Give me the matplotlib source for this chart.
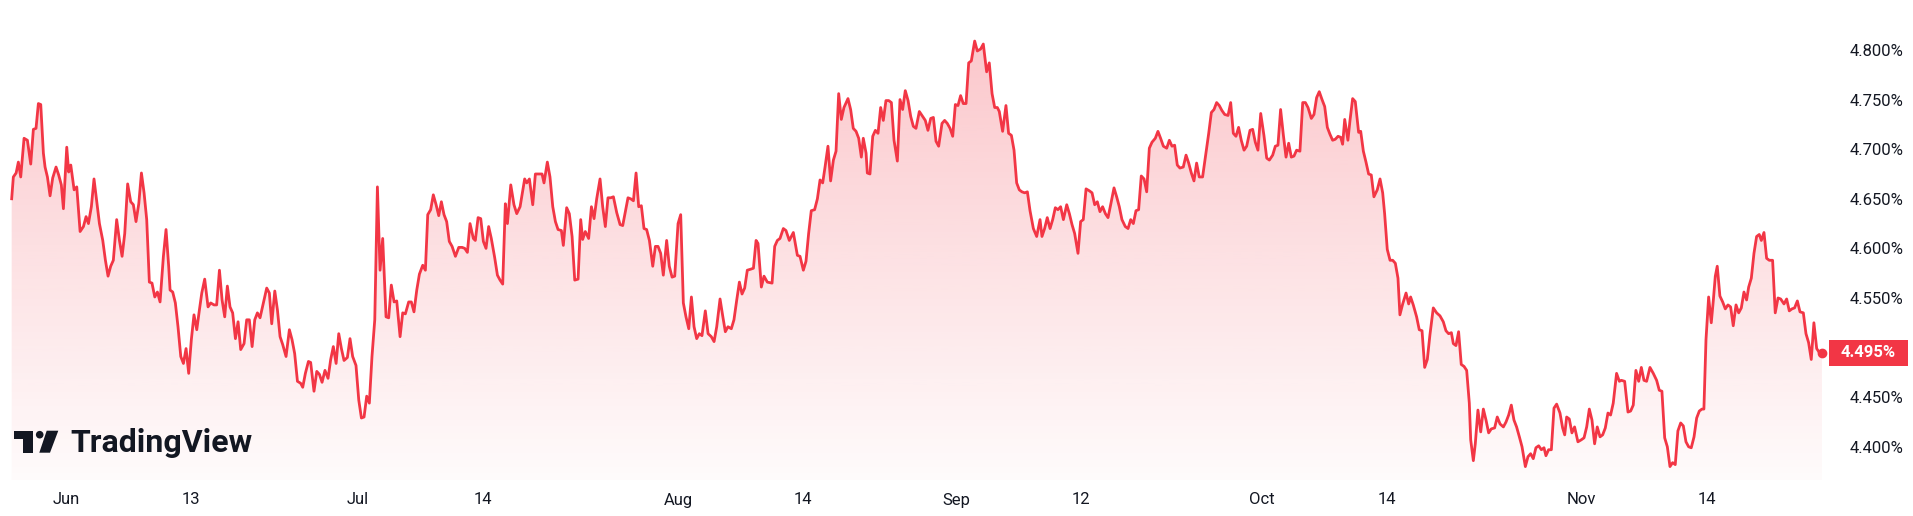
import matplotlib.pyplot as plt
import matplotlib.transforms as mtransforms
from matplotlib.colors import to_rgb
from matplotlib.patches import Rectangle, Circle, Polygon
import numpy as np

plt.rcParams['font.family'] = ['Roboto', 'DejaVu Sans']

# x = trading-day index (Jun label sits on day 4), y = yield in %
days = [
    0.09, 0.21, 0.41, 0.57, 0.74, 0.98, 1.22, 1.46, 1.65, 1.84, 2.01, 2.18, 2.37, 2.49, 2.66,
    2.85, 3.04, 3.28, 3.47, 3.66, 3.81, 4.05, 4.19, 4.34, 4.58, 4.77, 5.01, 5.25, 5.44, 5.61,
    5.82, 6.01, 6.25, 6.40, 6.64, 6.83, 7.02, 7.21, 7.40, 7.64, 7.84, 8.03, 8.22, 8.43, 8.65,
    8.84, 9.03, 9.23, 9.42, 9.61, 9.80, 9.99, 10.18, 10.38, 10.57, 10.76, 11.00, 11.19, 11.38, 11.48,
    11.67, 11.86, 12.05, 12.25, 12.44, 12.63, 12.82, 13.01, 13.20, 13.40, 13.59, 13.76, 13.97, 14.21, 14.40,
    14.64, 14.83, 15.03, 15.22, 15.41, 15.60, 15.79, 15.98, 16.18, 16.37, 16.56, 16.80, 16.99, 17.18, 17.38,
    17.57, 17.76,
    17.95, 18.19, 18.43, 18.62, 18.79, 19.01, 19.20, 19.39, 19.58, 19.82, 20.06, 20.25, 20.44, 20.64, 20.87,
    21.02, 21.21, 21.43, 21.59, 21.83, 22.03, 22.22, 22.41, 22.62, 22.84, 23.03, 23.22, 23.42, 23.61, 23.80,
    23.99, 24.23, 24.42, 24.61, 24.85, 25.05, 25.24, 25.43, 25.62, 25.81, 26.00, 26.20, 26.39, 26.58, 26.77,
    27.01, 27.20, 27.39, 27.59, 27.78, 28.02, 28.21, 28.40, 28.64, 28.83, 29.02, 29.22, 29.41, 29.65, 29.84,
    30.01, 30.22, 30.41, 30.61, 30.80, 30.99, 31.18, 31.37, 31.56, 31.76, 32.00, 32.24, 32.48, 32.67, 32.86,
    33.05, 33.29, 33.43, 33.63, 33.82, 34.01, 34.20, 34.39, 34.58, 34.82, 35.02, 35.21, 35.40, 35.59, 35.74,
    35.98, 36.21, 36.41,
    36.65, 36.98, 37.13, 37.32, 37.56, 37.75, 37.99, 38.23, 38.37, 38.61, 38.80, 39.00, 39.19, 39.38, 39.62,
    39.76, 40.00, 40.19, 40.39, 40.58, 40.82, 41.01, 41.15, 41.34, 41.58, 41.78, 41.97, 42.16, 42.40, 42.59,
    42.78, 42.97, 43.17, 43.36, 43.60, 43.84, 44.03, 44.22, 44.41, 44.60, 44.80, 44.99, 45.18, 45.37, 45.56,
    45.75, 45.95, 46.19, 46.38, 46.57, 46.76, 46.95, 47.19, 47.38, 47.58, 47.77, 48.01, 48.20, 48.39, 48.58,
    48.78, 48.97, 49.16, 49.35, 49.54, 49.73, 49.97, 50.17, 50.40, 50.60, 50.79, 51.03, 51.22, 51.41, 51.60,
    51.84, 52.03, 52.23, 52.42, 52.61, 52.80, 52.99, 53.23, 53.43, 53.62, 53.76, 54.00, 54.19, 54.43, 54.77,
    54.96, 55.15,
    55.34, 55.58, 55.77, 56.01, 56.30, 56.59, 56.78, 57.02, 57.21, 57.40, 57.59, 57.83, 58.03, 58.22, 58.41,
    58.58, 58.79, 58.98, 59.18, 59.37, 59.56, 59.75, 59.94, 60.23, 60.42, 60.61, 60.81, 61.00, 61.19, 61.33,
    61.53, 61.62, 61.81, 62.01, 62.20, 62.39, 62.58, 62.77, 62.96, 63.16, 63.35, 63.54, 63.78, 63.97, 64.16,
    64.35, 64.55, 64.74, 64.93, 65.12, 65.36, 65.60, 65.79, 65.98, 66.18, 66.37, 66.56, 66.75, 66.99, 67.18,
    67.37, 67.57, 67.76, 67.95, 68.14, 68.33, 68.52, 68.72, 68.91, 69.10, 69.34, 69.53, 69.77, 69.96, 70.20,
    70.39, 70.59, 70.78, 70.97, 71.11, 71.35, 71.59, 71.78, 71.98, 72.17, 72.36, 72.55, 72.74, 72.94, 73.13,
    73.32, 73.56, 73.80,
    74.04, 74.18, 74.37, 74.56, 74.76, 74.95, 75.14, 75.33, 75.52, 75.72, 75.96, 76.15, 76.34, 76.53, 76.77,
    76.96, 77.15, 77.35, 77.59, 77.78, 77.97, 78.16, 78.35, 78.54, 78.74, 78.93, 79.12, 79.36, 79.55, 79.74,
    79.93, 80.17, 80.37, 80.56, 80.75, 80.94, 81.13, 81.32, 81.52, 81.71, 81.90, 82.09, 82.33, 82.52, 82.71,
    82.91, 83.15, 83.34, 83.53, 83.72, 83.91, 84.10, 84.34, 84.54, 84.73, 84.92, 85.11, 85.30, 85.49, 85.73,
    85.93, 86.17, 86.36, 86.55, 86.74, 86.93, 87.12, 87.32, 87.56, 87.75, 87.94, 88.13, 88.32, 88.51, 88.71,
    88.90, 89.14, 89.33, 89.52, 89.71, 89.91, 90.14, 90.34, 90.53, 90.77, 90.96, 91.15, 91.34, 91.54, 91.73,
    91.92, 92.11, 92.30, 92.49,
    92.73, 92.93, 93.12, 93.31, 93.55, 93.74, 93.93, 94.12, 94.32, 94.51, 94.70, 94.89, 95.08, 95.27, 95.47,
    95.66, 95.80, 95.95, 96.18, 96.33, 96.52, 96.71, 96.95, 97.10, 97.29, 97.48, 97.67, 97.86, 98.05, 98.29,
    98.49, 98.68, 98.82, 99.01, 99.21, 99.40, 99.59, 99.78, 99.92, 100.12, 100.36, 100.55, 100.69, 100.88, 101.12,
    101.31, 101.51, 101.70, 101.89, 102.08, 102.32, 102.56, 102.80, 103.04, 103.23, 103.42, 103.62, 103.76, 103.95, 104.14,
    104.33, 104.53, 104.72, 104.91, 105.01, 105.20, 105.34, 105.53, 105.73, 105.92, 106.11, 106.30, 106.49, 106.73, 106.92,
    107.12, 107.36, 107.55, 107.74, 107.93, 108.12, 108.31, 108.51, 108.70, 108.94, 109.13, 109.32, 109.51, 109.70, 109.90,
    110.09, 110.28, 110.42, 110.61, 110.81, 111.00, 111.19,
    111.43, 111.62, 111.77, 111.91, 112.10, 112.29, 112.48, 112.72, 112.96, 113.16, 113.35, 113.54, 113.73, 113.92, 114.11,
    114.31, 114.50, 114.69, 114.88, 115.07, 115.26, 115.50, 115.70, 115.84, 116.08, 116.32, 116.51, 116.70, 116.89, 117.09,
    117.28, 117.47, 117.66, 117.90, 118.14, 118.38, 118.57, 118.76, 118.96, 119.15, 119.34, 119.53, 119.72, 119.91, 120.11,
    120.30, 120.49, 120.68, 120.87, 121.07, 121.26, 121.45, 121.64, 121.78, 121.93, 122.12, 122.31, 122.46, 122.60, 122.74,
    122.93, 123.13, 123.32, 123.51, 123.70, 123.89, 124.09, 124.28, 124.47, 124.66, 124.85, 125.00, 125.19, 125.38, 125.57,
    125.76, 125.91, 126.10, 126.29, 126.48, 126.72, 126.91, 127.11, 127.30, 127.54, 127.73, 127.92, 128.11, 128.30, 128.50,
    128.69, 128.93, 129.12, 129.31, 129.50, 129.69, 129.89, 130.08, 130.27,
]

yields = [
    4.650, 4.672, 4.676, 4.687, 4.672, 4.711, 4.709, 4.685, 4.720, 4.721, 4.746, 4.745, 4.696, 4.682, 4.672,
    4.653, 4.671, 4.682, 4.674, 4.664, 4.640, 4.702, 4.677, 4.684, 4.659, 4.662, 4.617, 4.622, 4.632, 4.625,
    4.642, 4.670, 4.642, 4.625, 4.608, 4.588, 4.572, 4.582, 4.588, 4.629, 4.608, 4.592, 4.615, 4.665, 4.647,
    4.644, 4.627, 4.645, 4.676, 4.656, 4.629, 4.566, 4.565, 4.551, 4.556, 4.546, 4.592, 4.619, 4.582, 4.558,
    4.556, 4.545, 4.521, 4.491, 4.484, 4.499, 4.474, 4.508, 4.533, 4.518, 4.538, 4.555, 4.569, 4.541, 4.545,
    4.543, 4.543, 4.578, 4.548, 4.531, 4.562, 4.541, 4.535, 4.509, 4.526, 4.498, 4.504, 4.528, 4.528, 4.501,
    4.528, 4.535,
    4.530, 4.545, 4.560, 4.555, 4.524, 4.557, 4.538, 4.511, 4.503, 4.491, 4.518, 4.508, 4.494, 4.466, 4.464,
    4.460, 4.474, 4.486, 4.485, 4.456, 4.476, 4.473, 4.465, 4.477, 4.469, 4.488, 4.501, 4.484, 4.514, 4.499,
    4.487, 4.490, 4.509, 4.491, 4.482, 4.447, 4.429, 4.430, 4.451, 4.444, 4.491, 4.528, 4.662, 4.578, 4.610,
    4.531, 4.530, 4.563, 4.546, 4.547, 4.511, 4.535, 4.534, 4.546, 4.546, 4.536, 4.558, 4.574, 4.583, 4.578,
    4.634, 4.639, 4.654, 4.644, 4.633, 4.647, 4.634, 4.627, 4.607, 4.602, 4.592, 4.601, 4.601, 4.600, 4.596,
    4.625, 4.610, 4.608, 4.631, 4.630, 4.607, 4.600, 4.622, 4.610, 4.591, 4.573, 4.568, 4.564, 4.645, 4.625,
    4.664, 4.644, 4.635,
    4.642, 4.670, 4.666, 4.670, 4.644, 4.675, 4.675, 4.675, 4.666, 4.687, 4.672, 4.642, 4.627, 4.619, 4.618,
    4.603, 4.641, 4.635, 4.612, 4.568, 4.569, 4.629, 4.609, 4.617, 4.610, 4.642, 4.630, 4.650, 4.670, 4.642,
    4.622, 4.651, 4.651, 4.652, 4.636, 4.624, 4.623, 4.637, 4.651, 4.650, 4.648, 4.676, 4.642, 4.643, 4.620,
    4.619, 4.608, 4.582, 4.602, 4.602, 4.595, 4.573, 4.608, 4.582, 4.571, 4.572, 4.625, 4.634, 4.545, 4.531,
    4.519, 4.551, 4.521, 4.509, 4.514, 4.512, 4.537, 4.514, 4.511, 4.506, 4.521, 4.549, 4.532, 4.516, 4.521,
    4.519, 4.528, 4.548, 4.566, 4.554, 4.560, 4.578, 4.579, 4.580, 4.608, 4.605, 4.561, 4.572, 4.566, 4.565,
    4.602, 4.608,
    4.610, 4.620, 4.618, 4.608, 4.616, 4.593, 4.592, 4.578, 4.587, 4.615, 4.638, 4.639, 4.650, 4.669, 4.666,
    4.682, 4.703, 4.668, 4.689, 4.698, 4.756, 4.730, 4.742, 4.751, 4.740, 4.721, 4.718, 4.711, 4.692, 4.711,
    4.696, 4.676, 4.675, 4.713, 4.719, 4.716, 4.742, 4.729, 4.749, 4.749, 4.747, 4.709, 4.688, 4.750, 4.740,
    4.759, 4.749, 4.733, 4.723, 4.721, 4.738, 4.733, 4.729, 4.719, 4.731, 4.732, 4.708, 4.703, 4.726, 4.729,
    4.726, 4.721, 4.713, 4.745, 4.744, 4.754, 4.746, 4.746, 4.787, 4.789, 4.809, 4.799, 4.801, 4.806, 4.778,
    4.787, 4.756, 4.742, 4.742, 4.738, 4.718, 4.744, 4.716, 4.714, 4.699, 4.666, 4.659, 4.657, 4.656, 4.657,
    4.638, 4.620, 4.612,
    4.629, 4.612, 4.620, 4.631, 4.620, 4.629, 4.641, 4.639, 4.642, 4.629, 4.644, 4.635, 4.624, 4.615, 4.595,
    4.627, 4.629, 4.660, 4.658, 4.656, 4.644, 4.647, 4.637, 4.642, 4.635, 4.631, 4.644, 4.661, 4.652, 4.642,
    4.629, 4.622, 4.620, 4.629, 4.625, 4.638, 4.639, 4.673, 4.670, 4.657, 4.701, 4.707, 4.711, 4.718, 4.711,
    4.703, 4.701, 4.709, 4.703, 4.704, 4.684, 4.681, 4.682, 4.694, 4.686, 4.676, 4.668, 4.686, 4.672, 4.672,
    4.692, 4.716, 4.737, 4.740, 4.747, 4.744, 4.739, 4.735, 4.734, 4.747, 4.716, 4.713, 4.722, 4.709, 4.699,
    4.703, 4.719, 4.720, 4.707, 4.699, 4.736, 4.714, 4.691, 4.689, 4.694, 4.703, 4.704, 4.740, 4.714, 4.692,
    4.706, 4.692, 4.693, 4.699,
    4.698, 4.747, 4.747, 4.742, 4.731, 4.735, 4.752, 4.758, 4.750, 4.743, 4.722, 4.715, 4.709, 4.710, 4.713,
    4.712, 4.705, 4.730, 4.709, 4.729, 4.751, 4.748, 4.717, 4.718, 4.698, 4.687, 4.675, 4.674, 4.652, 4.659,
    4.670, 4.656, 4.635, 4.599, 4.588, 4.588, 4.585, 4.570, 4.533, 4.544, 4.555, 4.544, 4.551, 4.543, 4.531,
    4.518, 4.517, 4.480, 4.488, 4.513, 4.540, 4.535, 4.532, 4.526, 4.517, 4.514, 4.515, 4.504, 4.502, 4.516,
    4.483, 4.481, 4.477, 4.444, 4.407, 4.386, 4.403, 4.437, 4.415, 4.438, 4.427, 4.414, 4.418, 4.419, 4.430,
    4.423, 4.420, 4.425, 4.432, 4.442, 4.427, 4.420, 4.410, 4.400, 4.380, 4.390, 4.393, 4.388, 4.399, 4.401,
    4.397, 4.399, 4.391, 4.397, 4.397, 4.439, 4.443,
    4.434, 4.419, 4.412, 4.430, 4.428, 4.414, 4.420, 4.405, 4.407, 4.409, 4.420, 4.438, 4.427, 4.403, 4.420,
    4.410, 4.412, 4.419, 4.434, 4.432, 4.444, 4.474, 4.466, 4.467, 4.466, 4.435, 4.436, 4.442, 4.477, 4.466,
    4.480, 4.467, 4.466, 4.480, 4.474, 4.467, 4.457, 4.456, 4.409, 4.400, 4.380, 4.384, 4.382, 4.416, 4.424,
    4.421, 4.405, 4.400, 4.399, 4.410, 4.429, 4.436, 4.438, 4.438, 4.508, 4.551, 4.525, 4.548, 4.572, 4.582,
    4.552, 4.546, 4.539, 4.543, 4.541, 4.522, 4.543, 4.535, 4.540, 4.556, 4.548, 4.561, 4.570, 4.595, 4.612,
    4.614, 4.608, 4.616, 4.590, 4.588, 4.588, 4.535, 4.550, 4.549, 4.544, 4.549, 4.537, 4.539, 4.540, 4.547,
    4.536, 4.535, 4.514, 4.505, 4.488, 4.525, 4.499, 4.495, 4.495,
]

tick_days = [4, 13, 25, 34, 48, 57, 68, 77, 90, 99, 113, 122]
tick_labels = ['Jun', '13', 'Jul', '14', 'Aug', '14', 'Sep', '12', 'Oct', '14', 'Nov', '14']
price_ticks = [4.40, 4.45, 4.50, 4.55, 4.60, 4.65, 4.70, 4.75, 4.80]
price_labels = ['4.400%', '4.450%', '', '4.550%', '4.600%', '4.650%', '4.700%', '4.750%', '4.800%']
last_price = 4.495

RED = '#F23645'
INK = '#131722'
W, H = 1913, 516

fig = plt.figure(figsize=(W / 100, H / 100), dpi=100)
fig.patch.set_facecolor('white')
ax = fig.add_axes([0, 36 / H, 1826 / W, 480 / H])

xlo, xhi = -0.75, 130.56
ylo, yhi = 4.3665, 4.8504

# gradient area under the line
fill = ax.fill_between(days, yields, ylo, facecolor='none', edgecolor='none')
rgba = np.zeros((256, 1, 4))
rgba[:, :, :3] = to_rgb(RED)
rgba[:, 0, 3] = np.linspace(0.30, 0.02, 256)
im = ax.imshow(rgba, extent=[xlo, xhi, ylo, yhi], aspect='auto', origin='upper', zorder=1)
im.set_clip_path(fill.get_paths()[0], transform=ax.transData)

ax.plot(days, yields, color=RED, lw=2.0, solid_joinstyle='round', zorder=3)
ax.plot(days[-1], yields[-1], 'o', ms=6, color=RED, zorder=4, clip_on=False)

ax.set_xlim(xlo, xhi)
ax.set_ylim(ylo, yhi)
for s in ax.spines.values():
    s.set_visible(False)

ax.set_xticks(tick_days, tick_labels)
ax.tick_params(axis='x', length=0, pad=9, labelsize=12, labelcolor=INK)
ax.yaxis.tick_right()
ax.set_yticks(price_ticks, price_labels)
ax.tick_params(axis='y', length=0, pad=17, labelsize=12, labelcolor=INK)

# last price tag on the scale
blend = mtransforms.blended_transform_factory(fig.transFigure, ax.transData)
tag_h = 0.0262
fig.add_artist(Rectangle((1829 / W, last_price - tag_h / 2), 79 / W, tag_h,
                         transform=blend, facecolor=RED, edgecolor='none'))
fig.text(1868.5 / W, last_price, f'{last_price:.3f}%', transform=blend,
         ha='center', va='center', color='white', fontsize=12, fontweight='bold')

# TradingView watermark (pixel coordinates, y down)
px = mtransforms.Affine2D().scale(1 / W, -1 / H).translate(0, 1) + fig.transFigure
fig.add_artist(Rectangle((14, 430.7), 19.3, 8.6, transform=px, facecolor=INK, edgecolor='none'))
fig.add_artist(Rectangle((22.7, 430.7), 10.6, 22, transform=px, facecolor=INK, edgecolor='none'))
fig.add_artist(Circle((39.7, 434.7), 3.8, transform=px, facecolor=INK, edgecolor='none'))
fig.add_artist(Polygon([(46.7, 430.7), (58.3, 430.7), (50, 452.7), (39.3, 452.7)],
                       closed=True, transform=px, facecolor=INK, edgecolor='none'))
fig.text(70 / W, 1 - 452 / H, 'TradingView', ha='left', va='baseline',
         fontsize=23, fontweight='bold', color=INK)

fig.savefig('out.png', dpi=100)
